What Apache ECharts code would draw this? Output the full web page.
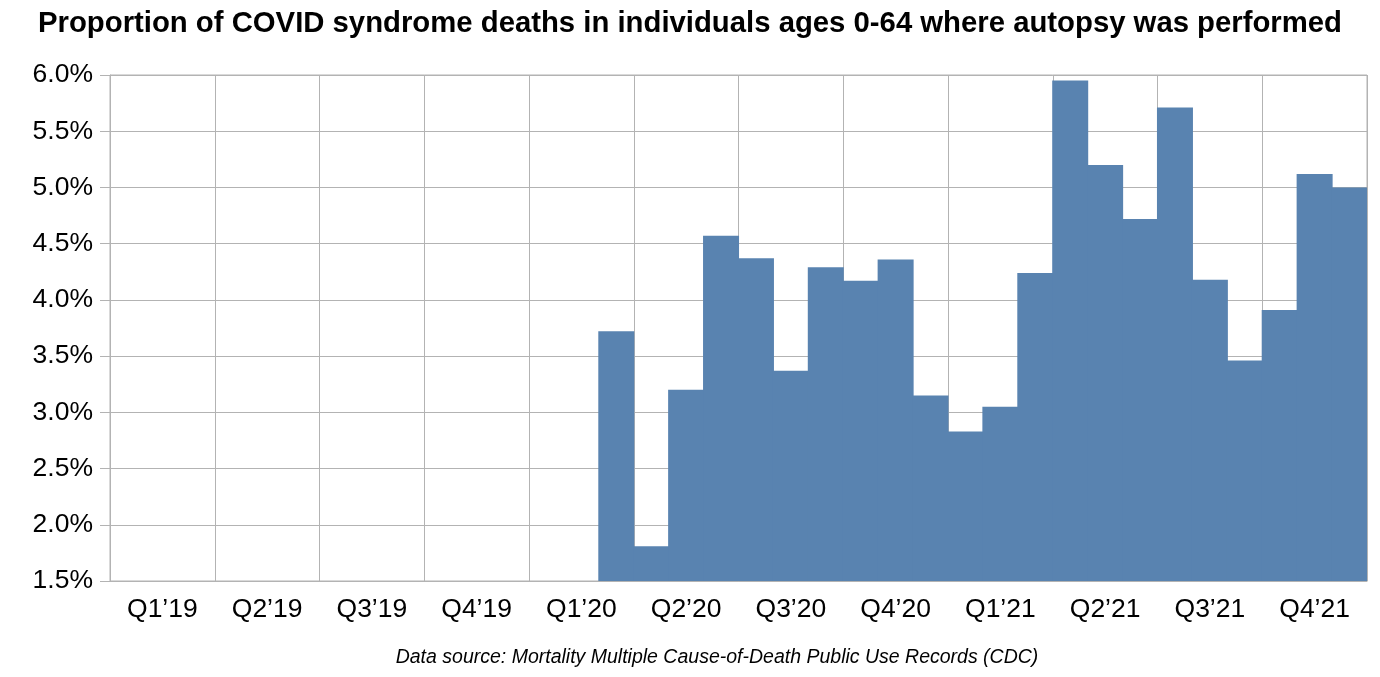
<!DOCTYPE html>
<html>
<head>
<meta charset="utf-8">
<script src="https://cdn.jsdelivr.net/npm/echarts@6/dist/echarts.min.js"></script>
<style>
html,body{margin:0;padding:0;background:#fff;}
#chart{width:1380px;height:677px;}
</style>
</head>
<body>
<div id="chart"></div>
<script>
const months = [
  "Jan 2019","Feb 2019","Mar 2019","Apr 2019","May 2019","Jun 2019",
  "Jul 2019","Aug 2019","Sep 2019","Oct 2019","Nov 2019","Dec 2019",
  "Jan 2020","Feb 2020","Mar 2020","Apr 2020","May 2020","Jun 2020",
  "Jul 2020","Aug 2020","Sep 2020","Oct 2020","Nov 2020","Dec 2020",
  "Jan 2021","Feb 2021","Mar 2021","Apr 2021","May 2021","Jun 2021",
  "Jul 2021","Aug 2021","Sep 2021","Oct 2021","Nov 2021","Dec 2021"
];
const quarterLabels = ["Q1’19","Q2’19","Q3’19","Q4’19","Q1’20","Q2’20","Q3’20","Q4’20","Q1’21","Q2’21","Q3’21","Q4’21"];
const autopsyPct = [
  null,null,null,null,null,null,
  null,null,null,null,null,null,
  null,null,3.72,1.81,3.20,4.57,
  4.37,3.37,4.29,4.17,4.36,3.15,
  2.83,3.05,4.24,5.95,5.20,4.72,
  5.71,4.18,3.46,3.91,5.12,5.00
];
const yTicks = {min:1.5, max:6.0, step:0.5};

const chart = echarts.init(document.getElementById('chart'));
const gridColor = '#b3b3b3';
chart.setOption({
  animation:false,
  backgroundColor:'#fff',
  title:[{
    text:'Proportion of COVID syndrome deaths in individuals ages 0-64 where autopsy was performed',
    left:'center', top:4,
    textStyle:{fontFamily:'Liberation Sans', fontWeight:'bold', fontSize:29.3, color:'#000'}
  },{
    text:'Data source: Mortality Multiple Cause-of-Death Public Use Records (CDC)',
    left:712, top:643, textAlign:'center',
    textStyle:{fontFamily:'Liberation Sans', fontStyle:'italic', fontWeight:'normal', fontSize:19.5, color:'#000'}
  }],
  grid:{left:110, right:13, top:75, bottom:96, show:true, borderColor:gridColor, borderWidth:1, containLabel:false},
  xAxis:{
    type:'category',
    data:months,
    boundaryGap:true,
    axisLine:{show:true, lineStyle:{color:gridColor, width:1}},
    axisTick:{show:false},
    splitLine:{show:true, interval:function(i){return i%3===0;}, lineStyle:{color:gridColor, width:1}},
    axisLabel:{
      interval:function(i){return i%3===1;},
      formatter:function(v, i){return quarterLabels[Math.floor(i/3)];},
      fontFamily:'Liberation Sans', fontSize:26.5, color:'#000', margin:15
    }
  },
  yAxis:{
    type:'value',
    min:yTicks.min, max:yTicks.max, interval:yTicks.step,
    axisLine:{show:true, lineStyle:{color:gridColor, width:1}},
    axisTick:{show:true, length:10, lineStyle:{color:gridColor}},
    splitLine:{show:true, lineStyle:{color:gridColor, width:1}},
    axisLabel:{
      formatter:function(v){return v.toFixed(1)+'%';},
      fontFamily:'Liberation Sans', fontSize:26.5, color:'#000', margin:17,
      padding:[4,0,0,0]
    }
  },
  series:[{
    type:'bar',
    data:autopsyPct,
    barWidth:36,
    barGap:'0%',
    itemStyle:{color:'#5983b0', borderWidth:0},
    z:3
  }]
});
</script>
</body>
</html>
